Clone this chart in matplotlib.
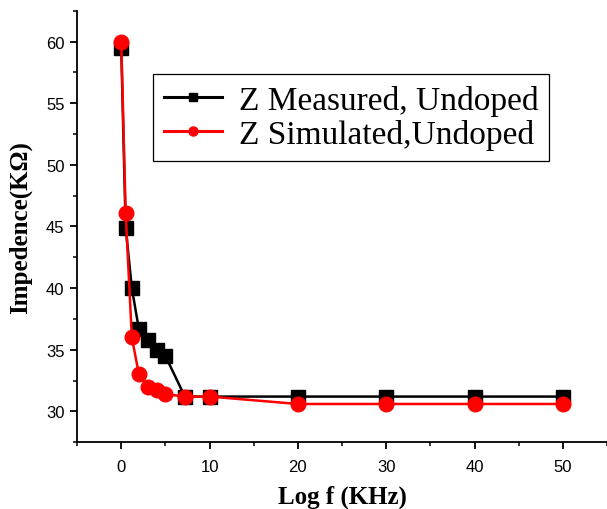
import numpy as np
import matplotlib
matplotlib.use("Agg")
import matplotlib.pyplot as plt
from matplotlib.ticker import MultipleLocator

# Data
freq = [0, 0.5, 1.2, 2, 3, 4, 5, 7.2, 10, 20, 30, 40, 50]
z_measured = [59.5, 44.9, 40.0, 36.65, 35.75, 34.95, 34.5, 31.2, 31.2, 31.2, 31.2, 31.2, 31.2]
z_simulated = [60.0, 46.1, 36.0, 33.0, 32.0, 31.7, 31.4, 31.2, 31.2, 30.6, 30.6, 30.6, 30.6]

labels = ["Z Measured, Undoped", "Z Simulated,Undoped"]

fig = plt.figure(figsize=(6.07, 5.10), dpi=100)
ax = fig.add_axes([0.127, 0.131, 0.873, 0.846])

ax.plot(freq, z_measured, color="black", marker="s", markersize=9.5, linewidth=1.8,
        label=labels[0], zorder=3)
ax.plot(freq, z_simulated, color="red", marker="o", markersize=10.5, linewidth=1.8,
        label=labels[1], zorder=4)

ax.set_xlim(-5, 55)
ax.set_ylim(27.5, 62.5)
ax.xaxis.set_major_locator(MultipleLocator(10))
ax.xaxis.set_minor_locator(MultipleLocator(5))
ax.yaxis.set_major_locator(MultipleLocator(5))
ax.yaxis.set_minor_locator(MultipleLocator(2.5))

for side in ["top", "right"]:
    ax.spines[side].set_visible(False)
for side in ["left", "bottom"]:
    ax.spines[side].set_linewidth(1.3)

ax.tick_params(which="major", direction="out", length=5, width=1.3, labelsize=12)
ax.tick_params(axis="x", which="major", pad=7)
ax.tick_params(axis="y", which="major", pad=4)
ax.tick_params(which="minor", direction="out", length=3, width=1.1)
for lbl in ax.get_xticklabels() + ax.get_yticklabels():
    lbl.set_fontfamily("Liberation Sans")

ax.set_xlabel("Log f (KHz)", fontfamily="Liberation Serif", fontweight="bold",
              fontsize=18, labelpad=8)
ax.set_ylabel("Impedence(KΩ)", fontfamily="Liberation Serif", fontweight="bold",
              fontsize=18, labelpad=10)

leg = ax.legend(loc="upper left", bbox_to_anchor=(0.143, 0.853), borderaxespad=0,
                prop={"family": "Liberation Serif", "size": 24},
                markerscale=0.62, handlelength=1.75, fancybox=False,
                edgecolor="black", framealpha=1, labelspacing=0.1,
                borderpad=0.32, handletextpad=0.5)
leg.get_frame().set_linewidth(0.9)
for h in leg.get_lines():
    h.set_linewidth(2.2)

fig.savefig("out.png", dpi=100)
